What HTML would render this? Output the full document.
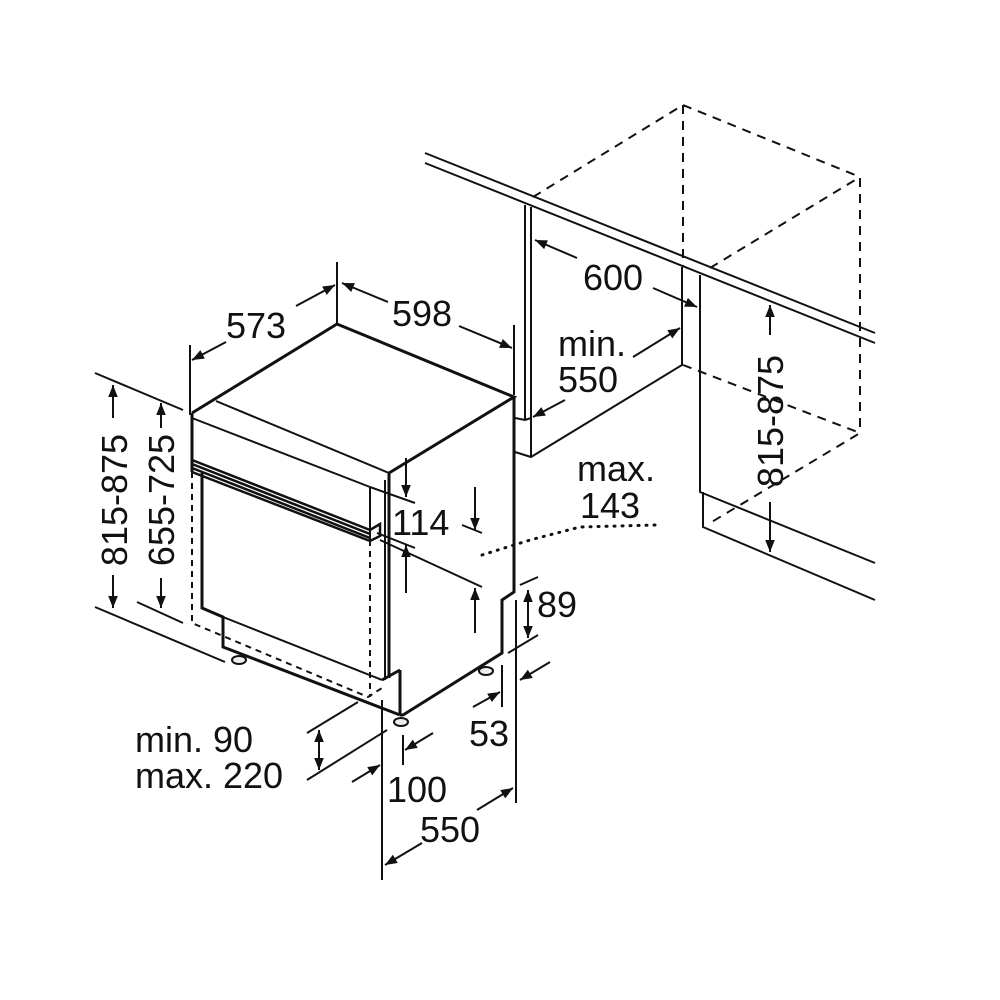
<!DOCTYPE html>
<html><head><meta charset="utf-8"><style>
html,body{margin:0;padding:0;background:#fff}
svg{display:block}
text{font-family:"Liberation Sans",sans-serif;font-size:36px;fill:#111}
</style></head><body>
<svg width="1000" height="1000" viewBox="0 0 1000 1000" xmlns="http://www.w3.org/2000/svg">
<defs>
<marker id="b" viewBox="0 0 10 10" refX="10" refY="5" markerWidth="14" markerHeight="12" orient="auto-start-reverse" markerUnits="userSpaceOnUse"><path d="M0,1 L10,5 L0,9 z" fill="#111"/></marker>
</defs>
<rect width="1000" height="1000" fill="#fff"/>
<g stroke="#111" fill="none" stroke-width="2">
<!-- countertop -->
<path d="M425,153 L875,333 M425,163 L875,343"/>
<!-- cabinet left panel -->
<path d="M525,205 L525,420 M531,207 L531,457 M515,418 L525,420 L531,418 M515,452 L531,457 L682,365 L682,267"/>
<!-- right panel -->
<path d="M700,275 L700,492 L875,563 M703,492 L703,527 L875,600"/>
<!-- dashed cabinet -->
<path stroke-dasharray="9,7" d="M533,197 L683,105 L860,177 L860,433 M683,105 L683,267 M710,268 L860,177 M683,365 L860,433 L710,523"/>
<!-- dishwasher -->
<g stroke-width="3">
<path d="M192,413 L337,324 L514,397 L389,473 M514,397 L514,592 L502,600 L502,653 L403,715 L400,715 M192,413 L192,472 M389,473 L389,678"/>
<path d="M202,473 L202,608 L223,617 L223,647 L400,715 M400,670 L400,715 M382,680 L400,670"/>
</g>
<path d="M192,418 L370,487 M216,401 L389,473 M370,487 L370,540 M385,680 L385,480 M223,617 L382,680"/>
<path stroke-width="2.5" d="M192,460 L370,530 M192,464 L370,534 M192,468 L370,538 M192,472 L370,541 M370,530 L380,524 L380,536 L370,541"/>
<path stroke-dasharray="6,5" d="M192,472 L192,623 L368,697 L382,688 M370,540 L370,697"/>
<!-- feet -->
<g fill="#eee"><ellipse cx="239" cy="660" rx="7" ry="4"/><ellipse cx="401" cy="722" rx="7" ry="4"/><ellipse cx="486" cy="671" rx="7" ry="4"/></g>
<!-- 573 / 598 -->
<path d="M190,345 L190,415 M337,262 L337,323 M514,325 L514,395"/>
<path marker-start="url(#b)" d="M192,360 L226,342"/>
<path marker-end="url(#b)" d="M296,306 L335,285"/>
<path marker-start="url(#b)" d="M342,283 L388,302"/>
<path marker-end="url(#b)" d="M459,326 L512,348"/>
<!-- 600 / min550 -->
<path marker-end="url(#b)" d="M577,258 L535,240"/>
<path marker-end="url(#b)" d="M653,288 L697,307"/>
<path marker-end="url(#b)" d="M633,357 L680,328"/>
<path marker-end="url(#b)" d="M565,400 L533,417"/>
<!-- 815-875 right -->
<path marker-end="url(#b)" d="M770,335 L770,305"/>
<path marker-end="url(#b)" d="M770,502 L770,552"/>
<!-- left dims -->
<path d="M95,373 L183,410 M95,607 L225,662 M137,602 L183,623"/>
<path marker-end="url(#b)" d="M113,418 L113,385"/>
<path marker-end="url(#b)" d="M113,575 L113,608"/>
<path marker-end="url(#b)" d="M161,428 L161,403"/>
<path marker-end="url(#b)" d="M161,578 L161,608"/>
<!-- 114 -->
<path d="M370,487 L415,503 M462,525 L482,533 M377,533 L415,548 M380,540 L482,587"/>
<path marker-end="url(#b)" d="M406,458 L406,497"/>
<path marker-end="url(#b)" d="M475,487 L475,530"/>
<path marker-end="url(#b)" d="M406,593 L406,545"/>
<path marker-end="url(#b)" d="M475,633 L475,588"/>
<!-- max 143 dotted -->
<path stroke-width="3" stroke-dasharray="1,7" stroke-linecap="round" d="M482,555 L530,540 L580,527 L655,525"/>
<!-- 89 -->
<path d="M520,585 L538,577 M508,653 L538,635 M516,600 L516,803"/>
<path marker-start="url(#b)" marker-end="url(#b)" d="M528,590 L528,638"/>
<!-- 53 -->
<path d="M502,665 L502,707"/>
<path marker-end="url(#b)" d="M473,707 L500,692"/>
<path marker-end="url(#b)" d="M550,662 L520,680"/>
<!-- min90 -->
<path d="M307,733 L358,702 M307,780 L387,730"/>
<path marker-start="url(#b)" marker-end="url(#b)" d="M319,730 L319,770"/>
<!-- 100 / 550 -->
<path d="M382,700 L382,880 M403,735 L403,765"/>
<path marker-end="url(#b)" d="M433,733 L405,750"/>
<path marker-end="url(#b)" d="M352,782 L380,765"/>
<path marker-end="url(#b)" d="M422,843 L385,865"/>
<path marker-end="url(#b)" d="M477,810 L513,788"/>
</g>
<g>
<text x="226" y="338">573</text>
<text x="392" y="326">598</text>
<text x="583" y="290">600</text>
<text x="558" y="356">min.</text>
<text x="558" y="392">550</text>
<text x="577" y="481">max.</text>
<text x="580" y="518">143</text>
<text x="392" y="535">114</text>
<text x="537" y="617">89</text>
<text x="469" y="746">53</text>
<text x="135" y="752">min. 90</text>
<text x="135" y="788">max. 220</text>
<text x="387" y="802">100</text>
<text x="420" y="842">550</text>
<text transform="translate(783,421) rotate(-90)" text-anchor="middle">815-875</text>
<text transform="translate(127,500) rotate(-90)" text-anchor="middle">815-875</text>
<text transform="translate(174,500) rotate(-90)" text-anchor="middle">655-725</text>
</g>
</svg>
</body></html>
